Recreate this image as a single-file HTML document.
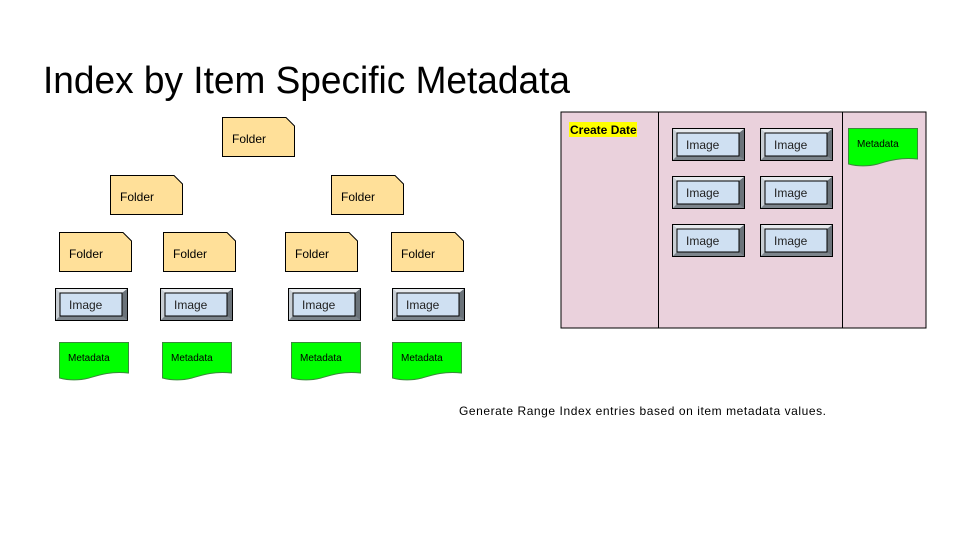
<!DOCTYPE html>
<html><head><meta charset="utf-8"><style>
html,body{margin:0;padding:0;background:#fff}
svg{display:block}
text{font-family:"Liberation Sans",Arial,sans-serif}
</style></head><body>
<svg width="960" height="540" viewBox="0 0 960 540" xmlns="http://www.w3.org/2000/svg">
<defs>
<g id="folder">
<path d="M0.5,0.5 H64 L72.5,9 V39.5 H0.5 Z" fill="#ffe099" stroke="#000" stroke-width="1"/>
<text x="10" y="26" font-size="12" fill="#000">Folder</text>
</g>
<g id="image">
<rect x="0.5" y="0.5" width="72" height="32" fill="#a0a8b0" stroke="#000"/>
<polygon points="1,1 72,1 67,5 5,5" fill="#e6eaee"/>
<polygon points="1,1 5,5 5,28 1,32" fill="#c8ced4"/>
<polygon points="72,1 72,32 67,28 67,5" fill="#6b737a"/>
<polygon points="1,32 72,32 67,28 5,28" fill="#7d858c"/>
<rect x="5" y="5" width="62" height="23" fill="#cfe0f2" stroke="#000" stroke-width="1"/>
<text x="14" y="21" font-size="12" fill="#222">Image</text>
</g>
<g id="meta">
<path d="M0.5,0.5 H69.5 V31 C52,29 40,33 30,36 C18,39 8,38 0.5,36 Z" fill="#00ff00" stroke="#3a8a3a" stroke-width="1"/>
<text x="9" y="19" font-size="10" fill="#000">Metadata</text>
</g>
</defs>

<text x="43" y="93" font-size="38" textLength="527" lengthAdjust="spacingAndGlyphs" fill="#000">Index by Item Specific Metadata</text>

<use href="#folder" x="222" y="117"/>
<use href="#folder" x="110" y="175"/>
<use href="#folder" x="331" y="175"/>
<use href="#folder" x="59" y="232"/>
<use href="#folder" x="163" y="232"/>
<use href="#folder" x="285" y="232"/>
<use href="#folder" x="391" y="232"/>

<use href="#image" x="55" y="288"/>
<use href="#image" x="160" y="288"/>
<use href="#image" x="288" y="288"/>
<use href="#image" x="392" y="288"/>

<use href="#meta" x="59" y="342"/>
<use href="#meta" x="162" y="342"/>
<use href="#meta" x="291" y="342"/>
<use href="#meta" x="392" y="342"/>

<rect x="561" y="112" width="365" height="216" fill="#ead1dc" stroke="#000" stroke-width="1"/>
<line x1="658.5" y1="112" x2="658.5" y2="328" stroke="#000"/>
<line x1="842.5" y1="112" x2="842.5" y2="328" stroke="#000"/>
<rect x="569" y="122" width="68" height="15" fill="#ffff00"/>
<text x="570" y="134" font-size="12" font-weight="bold" fill="#000">Create Date</text>

<use href="#image" x="672" y="128"/>
<use href="#image" x="760" y="128"/>
<use href="#image" x="672" y="176"/>
<use href="#image" x="760" y="176"/>
<use href="#image" x="672" y="224"/>
<use href="#image" x="760" y="224"/>
<use href="#meta" x="848" y="128"/>

<text x="459" y="415" font-size="12" textLength="367" lengthAdjust="spacing" fill="#000">Generate Range Index entries based on item metadata values.</text>
</svg>
</body></html>
